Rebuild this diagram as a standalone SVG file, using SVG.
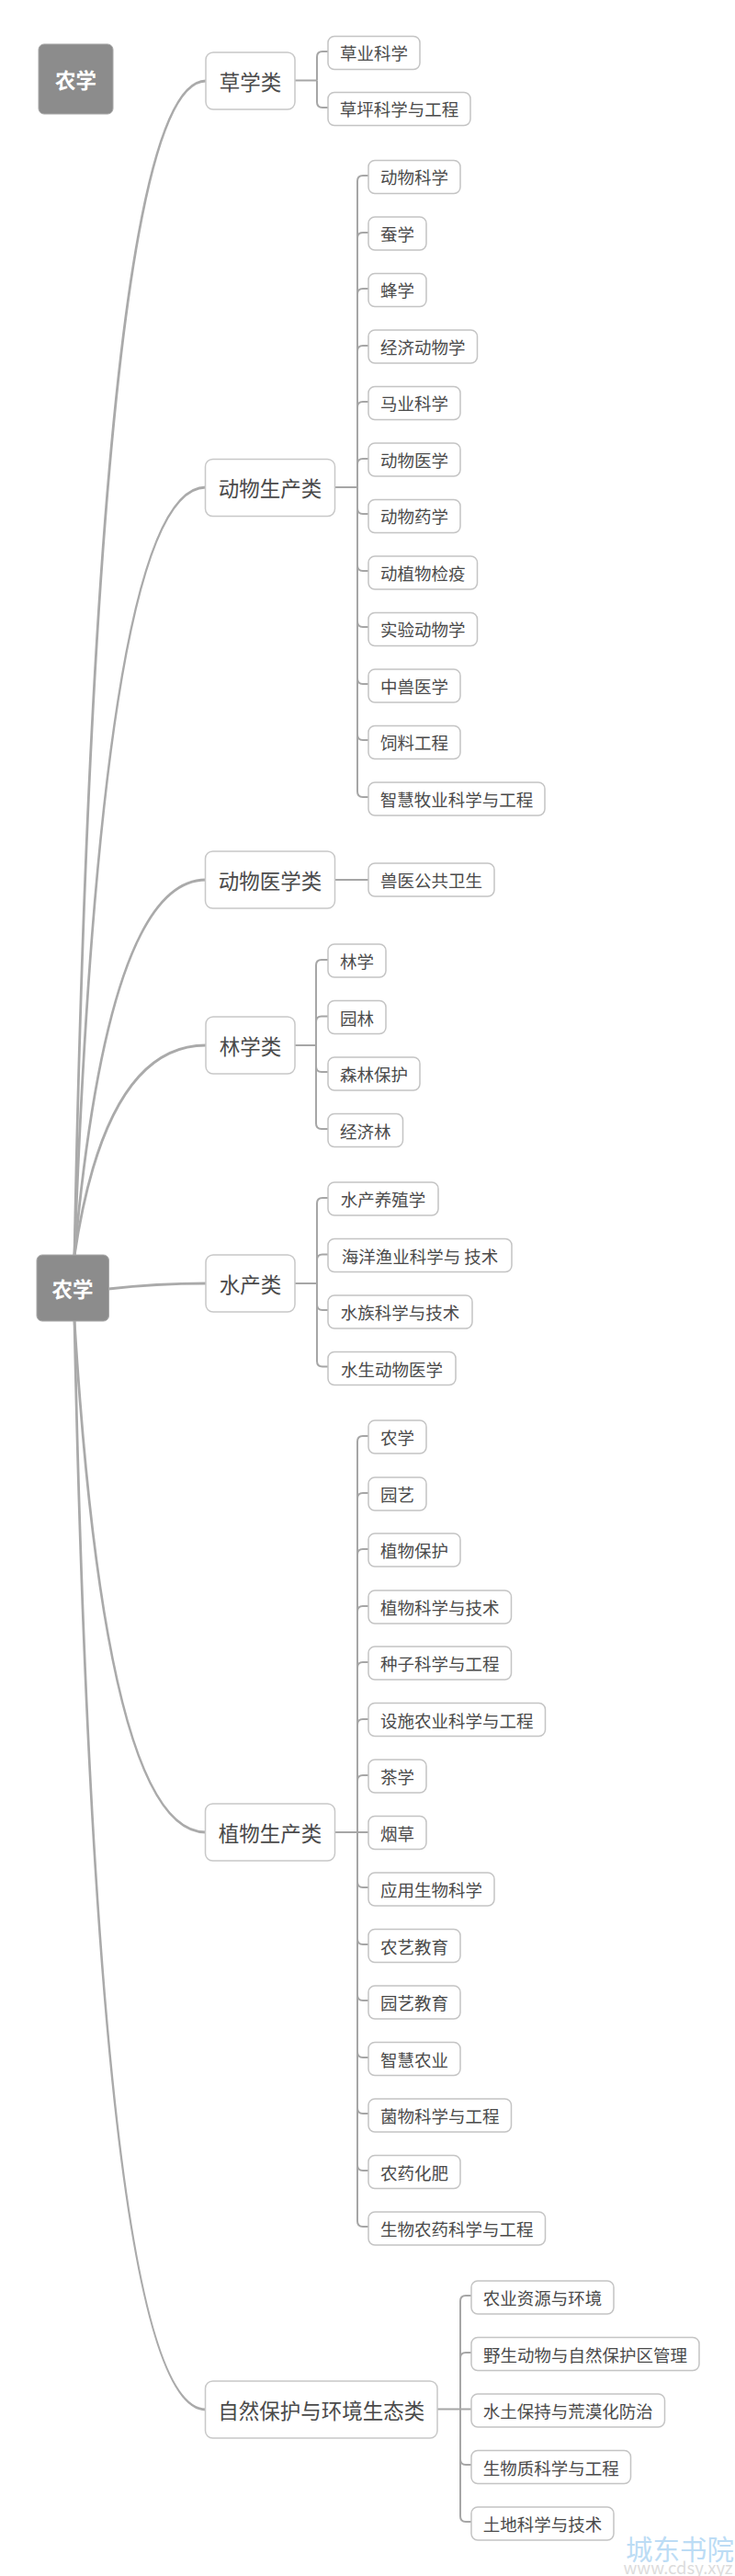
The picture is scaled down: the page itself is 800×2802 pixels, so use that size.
<svg xmlns="http://www.w3.org/2000/svg" width="800" height="2802" viewBox="0 0 800 2802">
<style>
text{font-family:"Noto Sans CJK SC","Noto Sans",sans-serif;text-anchor:middle;dominant-baseline:central;fill:#4a4a4a}
.root rect{fill:#8c8c8c;stroke:#a8a8a8;stroke-width:1}
.root text{fill:#fff;font-size:22.5px;font-weight:700}
.l1 rect{fill:#fff;stroke:#c8c8c8;stroke-width:1.5}
.l1 text{font-size:22.5px}
.l2 rect{fill:#fff;stroke:#c4c4c4;stroke-width:1.5}
.l2 text{font-size:18.5px}
#connectors path{fill:none}
.main{stroke:#aaa;stroke-width:2.8}
.sub{stroke:#a6a6a6;stroke-width:2}
</style>
<rect width="800" height="2802" fill="#fff"/>
<g id="connectors">
<g class="main">
<path d="M81 1366Q106 88 224 88"/>
<path d="M81 1366Q112 530 224 530"/>
<path d="M81 1366Q118 957 224 957"/>
<path d="M81 1366Q115 1137 224 1137"/>
<path d="M118 1402Q170 1396 224 1396"/>
<path d="M81 1436Q115 1993 224 1993"/>
<path d="M81 1436Q106 2621 224 2621"/>
</g>
<g class="sub">
<path d="M321 87.500H345"/><path d="M345 87.500V62Q345 56 351 56H358"/><path d="M345 87.500V111Q345 117 351 117H358"/>
<path d="M365 530H389"/>
<path d="M389 530V197Q389 191 395 191H402"/><path d="M389 530V259Q389 253 395 253H402"/><path d="M389 530V320Q389 314 395 314H402"/><path d="M389 530V382Q389 376 395 376H402"/><path d="M389 530V443Q389 437 395 437H402"/><path d="M389 530V505Q389 499 395 499H402"/><path d="M389 530V553Q389 559 395 559H402"/><path d="M389 530V615Q389 621 395 621H402"/><path d="M389 530V676Q389 682 395 682H402"/><path d="M389 530V738Q389 744 395 744H402"/><path d="M389 530V799Q389 805 395 805H402"/><path d="M389 530V861Q389 867 395 867H402"/>
<path d="M365 957H402"/>
<path d="M321 1137H344"/><path d="M344 1137V1050Q344 1044 350 1044H358"/><path d="M344 1137V1111.500Q344 1105.500 350 1105.500H358"/><path d="M344 1137V1160Q344 1166 350 1166H358"/><path d="M344 1137V1222Q344 1228 350 1228H358"/>
<path d="M321 1396H345"/><path d="M345 1396V1309Q345 1303 351 1303H358"/><path d="M345 1396V1370.500Q345 1364.500 351 1364.500H358"/><path d="M345 1396V1419Q345 1425 351 1425H358"/><path d="M345 1396V1480.500Q345 1486.500 351 1486.500H358"/>
<path d="M365 1993H402"/>
<path d="M389 1993V1568Q389 1562 395 1562H402"/><path d="M389 1993V1630Q389 1624 395 1624H402"/><path d="M389 1993V1691Q389 1685 395 1685H402"/><path d="M389 1993V1753Q389 1747 395 1747H402"/><path d="M389 1993V1814Q389 1808 395 1808H402"/><path d="M389 1993V1876Q389 1870 395 1870H402"/><path d="M389 1993V1937Q389 1931 395 1931H402"/><path d="M389 1993V2047Q389 2053 395 2053H402"/><path d="M389 1993V2109Q389 2115 395 2115H402"/><path d="M389 1993V2170Q389 2176 395 2176H402"/><path d="M389 1993V2232Q389 2238 395 2238H402"/><path d="M389 1993V2293Q389 2299 395 2299H402"/><path d="M389 1993V2355Q389 2361 395 2361H402"/><path d="M389 1993V2416Q389 2422 395 2422H402"/>
<path d="M476 2620.500H514"/>
<path d="M501 2620.500V2503Q501 2497 507 2497H514"/><path d="M501 2620.500V2565Q501 2559 507 2559H514"/><path d="M501 2620.500V2675Q501 2681 507 2681H514"/><path d="M501 2620.500V2737Q501 2743 507 2743H514"/>
</g>
</g>
<g id="root-top" class="root"><rect x="42" y="48" width="81" height="76" rx="6"/><text x="82.500" y="86">农学</text></g>
<g id="root" class="root"><rect x="40" y="1365" width="78.500" height="72" rx="6"/><text x="79" y="1401">农学</text></g>

<g id="n1" class="l1"><rect x="224" y="57" width="97" height="62" rx="8"/><text x="272.500" y="88">草学类</text></g>
<g id="n1a" class="l2"><rect x="357" y="39.500" width="100" height="36" rx="7"/><text x="407" y="57">草业科学</text></g>
<g id="n1b" class="l2"><rect x="357" y="100.500" width="155" height="36" rx="7"/><text x="434.500" y="118">草坪科学与工程</text></g>

<g id="n2" class="l1"><rect x="223.500" y="499.500" width="141" height="62" rx="8"/><text x="294" y="530">动物生产类</text></g>
<g id="n2a" class="l2"><rect x="401" y="174.500" width="100" height="36" rx="7"/><text x="451" y="192">动物科学</text></g>
<g id="n2b" class="l2"><rect x="401" y="236" width="63" height="36" rx="7"/><text x="432.500" y="254">蚕学</text></g>
<g id="n2c" class="l2"><rect x="401" y="297.500" width="63" height="36" rx="7"/><text x="432.500" y="315">蜂学</text></g>
<g id="n2d" class="l2"><rect x="401" y="359" width="118.500" height="36" rx="7"/><text x="460.250" y="377">经济动物学</text></g>
<g id="n2e" class="l2"><rect x="401" y="420.500" width="100" height="36" rx="7"/><text x="451" y="438">马业科学</text></g>
<g id="n2f" class="l2"><rect x="401" y="482" width="100" height="36" rx="7"/><text x="451" y="500">动物医学</text></g>
<g id="n2g" class="l2"><rect x="401" y="543.500" width="100" height="36" rx="7"/><text x="451" y="561">动物药学</text></g>
<g id="n2h" class="l2"><rect x="401" y="605" width="118.500" height="36" rx="7"/><text x="460.250" y="623">动植物检疫</text></g>
<g id="n2i" class="l2"><rect x="401" y="666.500" width="118.500" height="36" rx="7"/><text x="460.250" y="684">实验动物学</text></g>
<g id="n2j" class="l2"><rect x="401" y="728" width="100" height="36" rx="7"/><text x="451" y="746">中兽医学</text></g>
<g id="n2k" class="l2"><rect x="401" y="789.500" width="100" height="36" rx="7"/><text x="451" y="807">饲料工程</text></g>
<g id="n2l" class="l2"><rect x="401" y="851" width="192" height="36" rx="7"/><text x="497" y="869">智慧牧业科学与工程</text></g>

<g id="n3" class="l1"><rect x="223.500" y="926" width="141" height="62" rx="8"/><text x="294" y="957">动物医学类</text></g>
<g id="n3a" class="l2"><rect x="401" y="939" width="137" height="36" rx="7"/><text x="469.500" y="957">兽医公共卫生</text></g>

<g id="n4" class="l1"><rect x="224" y="1106" width="97" height="62" rx="8"/><text x="272.500" y="1137">林学类</text></g>
<g id="n4a" class="l2"><rect x="357" y="1027" width="63" height="36" rx="7"/><text x="388.500" y="1045">林学</text></g>
<g id="n4b" class="l2"><rect x="357" y="1088.500" width="63" height="36" rx="7"/><text x="388.500" y="1106.500">园林</text></g>
<g id="n4c" class="l2"><rect x="357" y="1150" width="100" height="36" rx="7"/><text x="407" y="1168">森林保护</text></g>
<g id="n4d" class="l2"><rect x="357" y="1211.500" width="81.500" height="36" rx="7"/><text x="397.750" y="1229.500">经济林</text></g>

<g id="n5" class="l1"><rect x="224" y="1365" width="97" height="62" rx="8"/><text x="272.500" y="1396">水产类</text></g>
<g id="n5a" class="l2"><rect x="357" y="1286" width="120" height="36" rx="7"/><text x="417" y="1304">水产养殖学</text></g>
<g id="n5b" class="l2"><rect x="357" y="1347.500" width="200" height="36" rx="7"/><text x="457" y="1365.500">海洋渔业科学与 技术</text></g>
<g id="n5c" class="l2"><rect x="357" y="1409" width="157" height="36" rx="7"/><text x="435.500" y="1427">水族科学与技术</text></g>
<g id="n5d" class="l2"><rect x="357" y="1470.500" width="139" height="36" rx="7"/><text x="426.500" y="1488.500">水生动物医学</text></g>

<g id="n6" class="l1"><rect x="223.500" y="1962" width="141" height="62" rx="8"/><text x="294" y="1993">植物生产类</text></g>
<g id="n6a" class="l2"><rect x="401" y="1545" width="63" height="36" rx="7"/><text x="432.500" y="1563">农学</text></g>
<g id="n6b" class="l2"><rect x="401" y="1607" width="63" height="36" rx="7"/><text x="432.500" y="1625">园艺</text></g>
<g id="n6c" class="l2"><rect x="401" y="1668" width="100" height="36" rx="7"/><text x="451" y="1686">植物保护</text></g>
<g id="n6d" class="l2"><rect x="401" y="1730" width="155.500" height="36" rx="7"/><text x="478.750" y="1748">植物科学与技术</text></g>
<g id="n6e" class="l2"><rect x="401" y="1791" width="155.500" height="36" rx="7"/><text x="478.750" y="1809">种子科学与工程</text></g>
<g id="n6f" class="l2"><rect x="401" y="1852.500" width="192.500" height="36" rx="7"/><text x="497.250" y="1870.500">设施农业科学与工程</text></g>
<g id="n6g" class="l2"><rect x="401" y="1914" width="63" height="36" rx="7"/><text x="432.500" y="1932">茶学</text></g>
<g id="n6h" class="l2"><rect x="401" y="1975.500" width="63" height="36" rx="7"/><text x="432.500" y="1993.500">烟草</text></g>
<g id="n6i" class="l2"><rect x="401" y="2037" width="137" height="36" rx="7"/><text x="469.500" y="2055">应用生物科学</text></g>
<g id="n6j" class="l2"><rect x="401" y="2098.500" width="100" height="36" rx="7"/><text x="451" y="2116.500">农艺教育</text></g>
<g id="n6k" class="l2"><rect x="401" y="2160" width="100" height="36" rx="7"/><text x="451" y="2178">园艺教育</text></g>
<g id="n6l" class="l2"><rect x="401" y="2221.500" width="100" height="36" rx="7"/><text x="451" y="2239.500">智慧农业</text></g>
<g id="n6m" class="l2"><rect x="401" y="2283" width="155.500" height="36" rx="7"/><text x="478.750" y="2301">菌物科学与工程</text></g>
<g id="n6n" class="l2"><rect x="401" y="2344.500" width="100" height="36" rx="7"/><text x="451" y="2362.500">农药化肥</text></g>
<g id="n6o" class="l2"><rect x="401" y="2406" width="192.500" height="36" rx="7"/><text x="497.250" y="2424">生物农药科学与工程</text></g>

<g id="n7" class="l1"><rect x="223.500" y="2590" width="252.500" height="62" rx="8"/><text x="349.750" y="2621">自然保护与环境生态类</text></g>
<g id="n7a" class="l2"><rect x="513" y="2481" width="155" height="36" rx="7"/><text x="590.500" y="2499">农业资源与环境</text></g>
<g id="n7b" class="l2"><rect x="513" y="2542.500" width="248" height="36" rx="7"/><text x="637" y="2560.500">野生动物与自然保护区管理</text></g>
<g id="n7c" class="l2"><rect x="513" y="2604" width="210.500" height="36" rx="7"/><text x="618.250" y="2622">水土保持与荒漠化防治</text></g>
<g id="n7d" class="l2"><rect x="513" y="2665.500" width="173.500" height="36" rx="7"/><text x="599.750" y="2683.500">生物质科学与工程</text></g>
<g id="n7e" class="l2"><rect x="513" y="2727" width="155" height="36" rx="7"/><text x="590.500" y="2745">土地科学与技术</text></g>

<text x="740" y="2771" style="font-size:29.500px;fill:#bcdcf5">城东书院</text>
<text x="738" y="2792" style="font-size:18.500px;fill:#dcdcdc">www.cdsy.xyz</text>
</svg>
